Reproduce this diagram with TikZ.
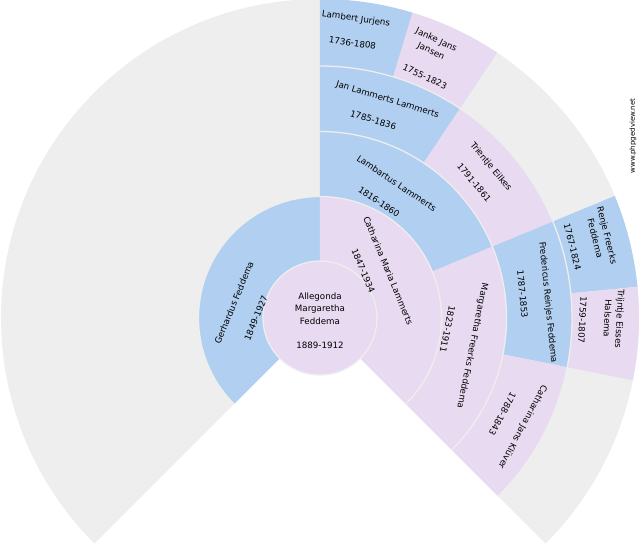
\documentclass[tikz,border=0pt]{standalone}
\usepackage{fontspec}
\setmainfont{DejaVu Sans}
\definecolor{fanblue}{RGB}{177,207,240}
\definecolor{fanpink}{RGB}{232,218,240}
\definecolor{fangray}{RGB}{238,238,238}
\newcommand{\fantext}{\fontsize{8.7}{12.3}\selectfont}
% sector: color, angulo inicial, angulo final, radio interior, radio exterior
\newcommand{\fansector}[5]{\fill[#1] (#2:#4pt) arc (#2:#3:#4pt) -- (#3:#5pt) arc (#3:#2:#5pt) -- cycle;}
\begin{document}
\begin{tikzpicture}[x=1pt,y=1pt,
    nombre/.style={font=\fantext, inner sep=0pt, align=center},
    sep/.style={draw=fangray, line width=1.3pt}]
    \useasboundingbox (-320,-232) rectangle (320,318);

    % Fondo gris del abanico
    \fill[fangray] (0,0) -- (-45:319pt) arc (-45:225:319pt) -- cycle;

    % Padres
    \fansector{fanblue}{90}{225}{57}{121.5}
    \fansector{fanpink}{-45}{90}{57}{121.5}
    % Abuelos
    \fansector{fanblue}{22.5}{90}{121.5}{186.5}
    \fansector{fanpink}{-45}{22.5}{121.5}{186.5}
    % Bisabuelos
    \fansector{fanblue}{56.25}{90}{186.5}{252}
    \fansector{fanpink}{22.5}{56.25}{186.5}{252}
    \fansector{fanblue}{-11.25}{22.5}{186.5}{252}
    \fansector{fanpink}{-45}{-11.25}{186.5}{252}
    % Tatarabuelos
    \fansector{fanblue}{73.125}{90}{252}{319}
    \fansector{fanpink}{56.25}{73.125}{252}{319}
    \fansector{fanblue}{5.625}{22.5}{252}{319}
    \fansector{fanpink}{-11.25}{5.625}{252}{319}

    % Lineas entre anillos
    \draw[sep] (-45:121.5pt) arc (-45:225:121.5pt);
    \draw[sep] (-45:186.5pt) arc (-45:90:186.5pt);
    \draw[sep] (-45:252pt) arc (-45:90:252pt);

    % Circulo central
    \fill[fanpink] (0,0) circle (57pt);
    \draw[sep] (0,0) circle (57pt);
    \node[nombre] (centro) at (0,-2.8) {Allegonda\\Margaretha\\Feddema\\[12.3pt]1889-1912};

    % Padres
    \node[nombre, rotate=67.5] (gerhardus) at (-86,15.3) {Gerhardus Feddema};
    \node[nombre, rotate=67.5] (gerhardusyr) at (-64,0) {1849-1927};
    \node[nombre, rotate=-67.5] (catharina) at (68.3,47.3) {Catharina Maria Lammerts};
    \node[nombre, rotate=-67.5] (catharinayr) at (43.3,47.3) {1847-1934};

    % Abuelos
    \node[nombre, rotate=-33.75] (lambartus) at (76.7,134.7) {Lambartus Lammerts};
    \node[nombre, rotate=-33.75] (lambartusyr) at (59,116.3) {1816-1860};
    \node[nombre, rotate=-101.25] (margaretha) at (152.2,-27.8) {Margaretha Freerks Feddema};
    \node[nombre, rotate=-101.25] (margarethayr) at (127.5,-11.2) {1823-1911};

    % Bisabuelos
    \node[nombre, rotate=-16.875] (jan) at (67.5,218) {Jan Lammerts Lammerts};
    \node[nombre, rotate=-16.875] (janyr) at (53.3,198) {1785-1836};
    \node[nombre, rotate=-50.625] (trientje) at (170.8,151.3) {Trientje Eilkes};
    \node[nombre, rotate=-50.625] (trientjeyr) at (154.2,135.5) {1791-1861};
    \node[nombre, rotate=-84.375] (fredericus) at (227.8,15.5) {Fredericus Reinjes Feddema};
    \node[nombre, rotate=-84.375] (fredericusyr) at (202.5,23.8) {1787-1853};
    \node[nombre, rotate=-118.125] (kluver) at (202.5,-108.7) {Catharina Jans Klüver};
    \node[nombre, rotate=-118.125] (kluveryr) at (182.5,-96.2) {1788-1843};

    % Tatarabuelos
    \node[nombre, rotate=-8.4375] (lambert) at (36,299) {Lambert Jurjens};
    \node[nombre, rotate=-8.4375] (lambertyr) at (32.5,275) {1736-1808};
    \node[nombre, rotate=-25.3125] (janke) at (113.6,272.2) {Janke Jans\\Jansen};
    \node[nombre, rotate=-25.3125] (jankeyr) at (105,241.3) {1755-1823};
    \node[nombre, rotate=-75.9375] (renje) at (281.3,81.3) {Renje Freerks\\Feddema};
    \node[nombre, rotate=-75.9375] (renjeyr) at (252.5,71.3) {1767-1824};
    \node[nombre, rotate=-92.8125] (trijntje) at (293.8,-0.8) {Trijntje Eisses\\Halsema};
    \node[nombre, rotate=-92.8125] (trijntjeyr) at (262.5,-2) {1759-1807};

    % Enlace
    \node[inner sep=0pt, font=\fontsize{7}{8}\selectfont, rotate=90] (web) at (313,182) {www.phpgedview.net};

  \end{tikzpicture}
\end{document}
